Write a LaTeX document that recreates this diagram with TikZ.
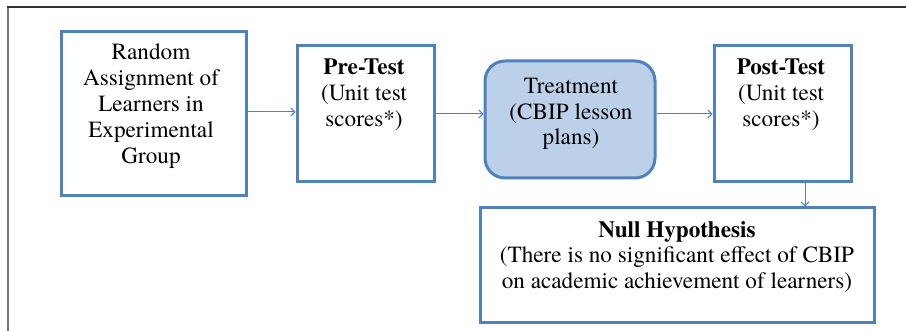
\documentclass[tikz,border=0pt]{standalone}
\usepackage{fontspec}
\setmainfont{TeX Gyre Termes}
\usetikzlibrary{arrows.meta}
\definecolor{boxblue}{HTML}{4F81BD}
\definecolor{fillblue}{HTML}{BDD0EA}
\definecolor{framedark}{HTML}{333333}
\definecolor{framegray}{HTML}{777777}
\tikzset{
  box/.style={draw=boxblue, line width=3pt, rectangle, inner sep=0pt},
  roundbox/.style={box, rounded corners=20pt, fill=fillblue},
  txt/.style={align=center, inner sep=0pt, font=\fontsize{23.2}{25.8}\selectfont},
  arr/.style={draw=boxblue, line width=1pt, -{Straight Barb[length=4pt,width=8pt]}}
}
\begin{document}
\begin{tikzpicture}[x=1pt,y=-1pt]
\useasboundingbox (0,0) rectangle (906,331);
\fill[white] (0,0) rectangle (906,331);
% frame
\draw[framegray, line width=2pt] (8,331) -- (8,7);
\draw[framedark, line width=1.8pt] (7,7) -- (906,7);
% boxes
\node[box, minimum width=185pt, minimum height=164pt] (rand) at (153.5,114) {};
\node[box, minimum width=137pt, minimum height=136pt] (pre) at (365.5,114) {};
\node[roundbox, minimum width=170pt, minimum height=117pt] (treat) at (570,119.5) {};
\node[box, minimum width=137pt, minimum height=136pt] (post) at (782.5,114) {};
\node[box, minimum width=394pt, minimum height=115pt] (null) at (677,265.5) {};
% texts
\node[txt] (randt) at (151,106) {Random\\Assignment of\\Learners in\\Experimental\\Group};
\node[txt] (pret) at (364,95) {\textbf{Pre-Test}\\(Unit test\\scores*)};
\node[txt] (treatt) at (571,114) {Treatment\\(CBIP lesson\\plans)};
\node[txt] (postt) at (781,95) {\textbf{Post-Test}\\(Unit test\\scores*)};
\node[txt] (nullt) at (677,257) {\textbf{Null Hypothesis}\\(There is no significant effect of CBIP\\on academic achievement of learners)};
% connectors
\draw[arr] (rand.east |- 0,112) -- (pre.west |- 0,112);
\draw[arr] (pre.east) -- (pre.east -| treat.west);
\draw[arr] (post.west -| treat.east) -- (post.west);
\coordinate (pn) at (805,182);
\draw[arr] (pn) -- (pn |- null.north);
\end{tikzpicture}
\end{document}
